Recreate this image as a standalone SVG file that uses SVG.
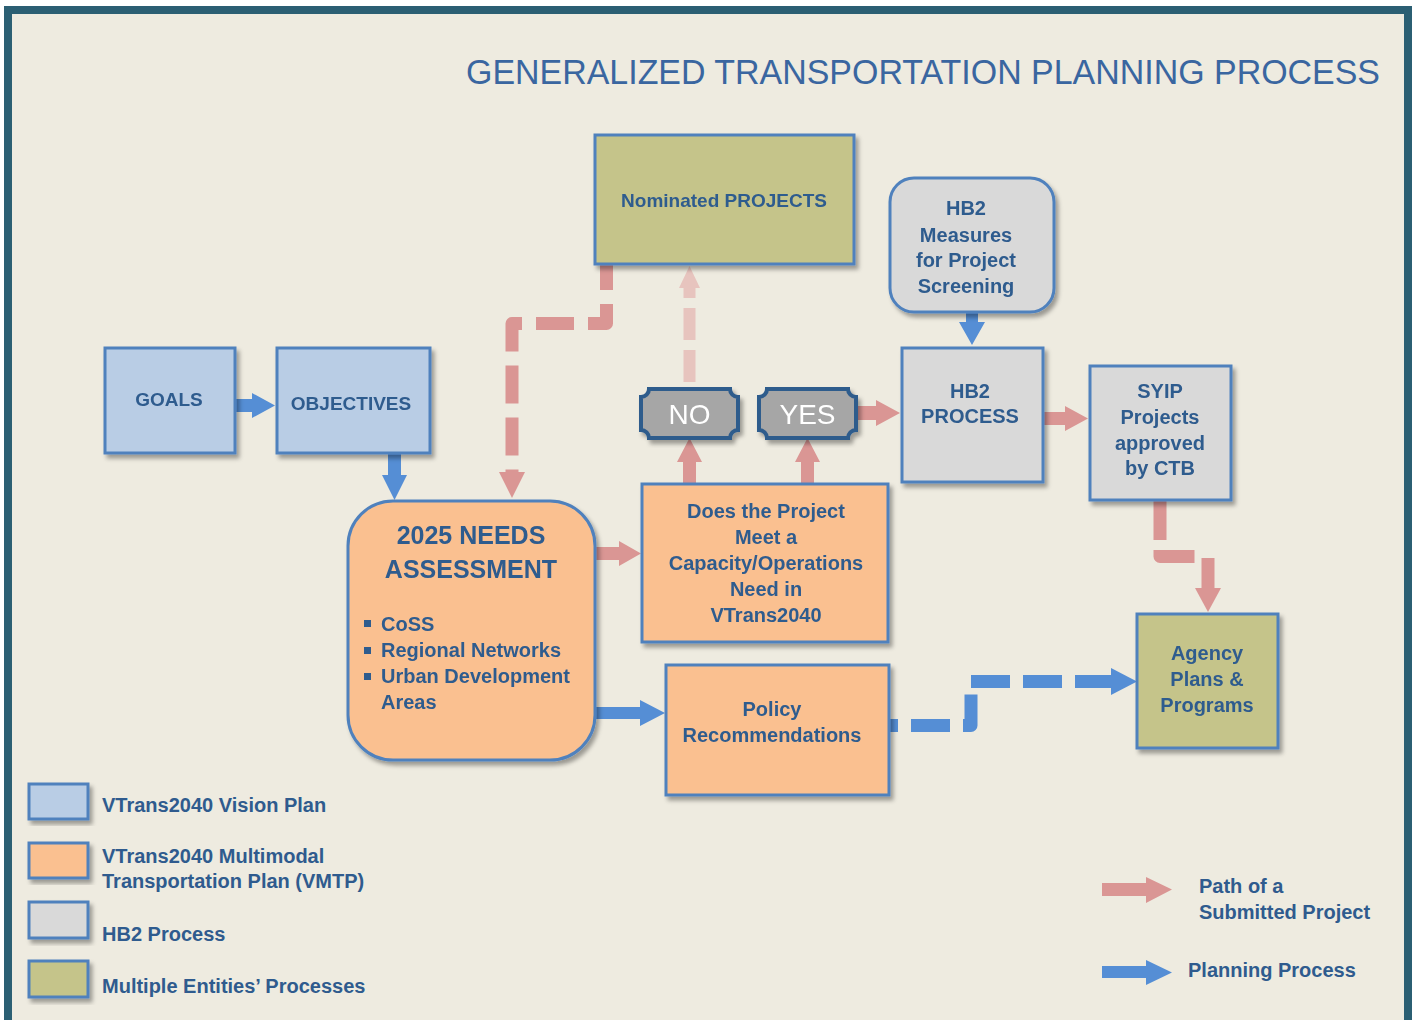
<svg xmlns="http://www.w3.org/2000/svg" width="1414" height="1020" viewBox="0 0 1414 1020">
<style>
.t{font-family:"Liberation Sans",Arial,sans-serif;font-weight:bold;fill:#2F5B8E;text-anchor:middle;font-size:20px}
.tl{font-family:"Liberation Sans",Arial,sans-serif;font-weight:bold;fill:#2F5B8E;font-size:20px}
.s19{font-size:19px}
.s25{font-size:25px}
.box{stroke:#4F81BD;stroke-width:3}
.blue{fill:#B9CDE5}.orange{fill:#FAC090}.gray{fill:#D9D9D9}.olive{fill:#C5C48A}
.badge{fill:#A6A6A6;stroke:#2F5C8C;stroke-width:4}
.bt{font-family:"Liberation Sans",Arial,sans-serif;fill:#FFFFFF;font-size:28px;text-anchor:middle}
.pk{fill:#DA9694}.bl{fill:#558ED5}
.pkd{fill:none;stroke:#DA9694;stroke-width:13;stroke-linejoin:round}
.bld{fill:none;stroke:#558ED5;stroke-width:13;stroke-linejoin:round}
</style>
<defs>
<filter id="sh" x="-10%" y="-10%" width="130%" height="130%">
<feDropShadow dx="3" dy="4" stdDeviation="2" flood-color="#000" flood-opacity="0.35"/>
</filter>
</defs>
<rect x="0" y="0" width="1414" height="1020" fill="#FFFFFF"/>
<rect x="8" y="10" width="1400" height="1014" fill="#EEEBE0" stroke="#2B5F73" stroke-width="8"/>
<text x="466" y="84" font-family="'Liberation Sans',Arial,sans-serif" font-size="35" fill="#3A66A0" textLength="914" lengthAdjust="spacingAndGlyphs">GENERALIZED TRANSPORTATION PLANNING PROCESS</text>

<g id="connectors">
<!-- GOALS -> OBJECTIVES -->
<polygon class="bl" points="235,399 252,399 252,393 275,405.5 252,418 252,412 235,412"/>
<!-- OBJECTIVES -> NEEDS -->
<polygon class="bl" points="388,454 401,454 401,475 407,475 394.5,500 382,475 388,475"/>
<!-- Nominated -> NEEDS (dashed pink) -->
<path class="pkd" d="M606.5,264 V323.5 H512 V472" stroke-dasharray="38 14" stroke-dashoffset="12"/>
<polygon class="pk" points="499,472 525,472 512,498"/>
<!-- NEEDS -> Does -->
<polygon class="pk" points="596,547 619,547 619,541 641,553.5 619,566 619,560 596,560"/>
<!-- Does -> NO -->
<polygon class="pk" points="683,484 683,462 677,462 689.5,438 702,462 696,462 696,484"/>
<!-- Does -> YES -->
<polygon class="pk" points="801,484 801,462 795,462 807.5,438 820,462 814,462 814,484"/>
<!-- NO -> Nominated (faded) -->
<path d="M689.5,382 V288" fill="none" stroke="#E7C4BE" stroke-width="12" stroke-dasharray="32 10"/>
<polygon fill="#E7C4BE" points="679,288 700,288 689.5,266"/>
<!-- YES -> HB2 PROCESS -->
<polygon class="pk" points="856,406 876,406 876,400 900,413 876,426 876,420 856,420"/>
<!-- HB2 Measures -> HB2 PROCESS -->
<polygon class="bl" points="966,312 978,312 978,322 985,322 972,345 959,322 966,322"/>
<!-- HB2 PROCESS -> SYIP -->
<polygon class="pk" points="1043,412 1065,412 1065,406 1088,418.5 1065,431 1065,425 1043,425"/>
<!-- SYIP -> Agency -->
<path class="pkd" d="M1160,500 V556.5 H1208 V588" stroke-dasharray="40 10 41 15 40"/>
<polygon class="pk" points="1195,588 1221,588 1208,612"/>
<!-- NEEDS -> Policy -->
<polygon class="bl" points="596,707 640,707 640,700 665,713 640,726 640,719 596,719"/>
<!-- Policy -> Agency (dashed blue) -->
<path class="bld" d="M890,725.5 H971 V681.5 H1112" stroke-dasharray="39 13" stroke-dashoffset="31"/>
<polygon class="bl" points="1111,668 1137,681.5 1111,695"/>
</g>

<g id="goals" filter="url(#sh)">
<rect class="box blue" x="105" y="348" width="130" height="105"/>
<text class="t s19" x="169" y="406">GOALS</text>
</g>
<g id="objectives" filter="url(#sh)">
<rect class="box blue" x="277" y="348" width="153" height="105"/>
<text class="t s19" x="351" y="410">OBJECTIVES</text>
</g>
<g id="needs" filter="url(#sh)">
<rect class="box orange" x="348" y="501" width="247" height="259" rx="45" ry="45"/>
<text class="t s25" x="471" y="544">2025 NEEDS</text>
<text class="t s25" x="471" y="578">ASSESSMENT</text>
<rect x="364" y="620" width="7" height="7" fill="#2F5B8E"/>
<rect x="364" y="647" width="7" height="7" fill="#2F5B8E"/>
<rect x="364" y="673" width="7" height="7" fill="#2F5B8E"/>
<text class="tl" x="381" y="631">CoSS</text>
<text class="tl" x="381" y="657">Regional Networks</text>
<text class="tl" x="381" y="683">Urban Development</text>
<text class="tl" x="381" y="709">Areas</text>
</g>
<g id="nominated" filter="url(#sh)">
<rect class="box olive" x="595" y="135" width="259" height="129"/>
<text class="t s19" x="724" y="207">Nominated PROJECTS</text>
</g>
<g id="hb2measures" filter="url(#sh)">
<rect class="box gray" x="890" y="178" width="164" height="134" rx="24" ry="24"/>
<text class="t" x="966" y="215">HB2</text>
<text class="t" x="966" y="242">Measures</text>
<text class="t" x="966" y="267">for Project</text>
<text class="t" x="966" y="293">Screening</text>
</g>
<g id="no" filter="url(#sh)">
<path class="badge" d="M649,389 H730 A8,8 0 0 0 738,397 V430 A8,8 0 0 0 730,438 H649 A8,8 0 0 0 641,430 V397 A8,8 0 0 0 649,389 Z"/>
<text class="bt" x="689.5" y="424">NO</text>
</g>
<g id="yes" filter="url(#sh)">
<path class="badge" d="M767,389 H848 A8,8 0 0 0 856,397 V430 A8,8 0 0 0 848,438 H767 A8,8 0 0 0 759,430 V397 A8,8 0 0 0 767,389 Z"/>
<text class="bt" x="807.5" y="424">YES</text>
</g>
<g id="hb2process" filter="url(#sh)">
<rect class="box gray" x="902" y="348" width="141" height="134"/>
<text class="t" x="970" y="398">HB2</text>
<text class="t" x="970" y="423">PROCESS</text>
</g>
<g id="syip" filter="url(#sh)">
<rect class="box gray" x="1090" y="366" width="141" height="134"/>
<text class="t" x="1160" y="398">SYIP</text>
<text class="t" x="1160" y="424">Projects</text>
<text class="t" x="1160" y="450">approved</text>
<text class="t" x="1160" y="475">by CTB</text>
</g>
<g id="does" filter="url(#sh)">
<rect class="box orange" x="642" y="484" width="246" height="158"/>
<text class="t" x="766" y="518">Does the Project</text>
<text class="t" x="766" y="544">Meet a</text>
<text class="t" x="766" y="570">Capacity/Operations</text>
<text class="t" x="766" y="596">Need in</text>
<text class="t" x="766" y="622">VTrans2040</text>
</g>
<g id="policy" filter="url(#sh)">
<rect class="box orange" x="666" y="665" width="223" height="130"/>
<text class="t" x="772" y="716">Policy</text>
<text class="t" x="772" y="742">Recommendations</text>
</g>
<g id="agency" filter="url(#sh)">
<rect class="box olive" x="1137" y="614" width="141" height="134"/>
<text class="t" x="1207" y="660">Agency</text>
<text class="t" x="1207" y="686">Plans &amp;</text>
<text class="t" x="1207" y="712">Programs</text>
</g>

<g id="legend">
<rect class="box blue" x="29" y="784" width="59" height="35" filter="url(#sh)"/>
<rect class="box orange" x="29" y="843" width="59" height="35" filter="url(#sh)"/>
<rect class="box gray" x="29" y="902" width="59" height="36" filter="url(#sh)"/>
<rect class="box olive" x="29" y="961" width="59" height="36" filter="url(#sh)"/>
<text class="tl" x="102" y="812">VTrans2040 Vision Plan</text>
<text class="tl" x="102" y="863">VTrans2040 Multimodal</text>
<text class="tl" x="102" y="888">Transportation Plan (VMTP)</text>
<text class="tl" x="102" y="941">HB2 Process</text>
<text class="tl" x="102" y="993">Multiple Entities’ Processes</text>
<polygon class="pk" points="1102,883 1146,883 1146,877 1172,889.5 1146,903 1146,896 1102,896"/>
<polygon class="bl" points="1102,966 1146,966 1146,960 1172,972.5 1146,985 1146,978 1102,978"/>
<text class="tl" x="1199" y="893">Path of a</text>
<text class="tl" x="1199" y="919">Submitted Project</text>
<text class="tl" x="1188" y="977">Planning Process</text>
</g>
</svg>
